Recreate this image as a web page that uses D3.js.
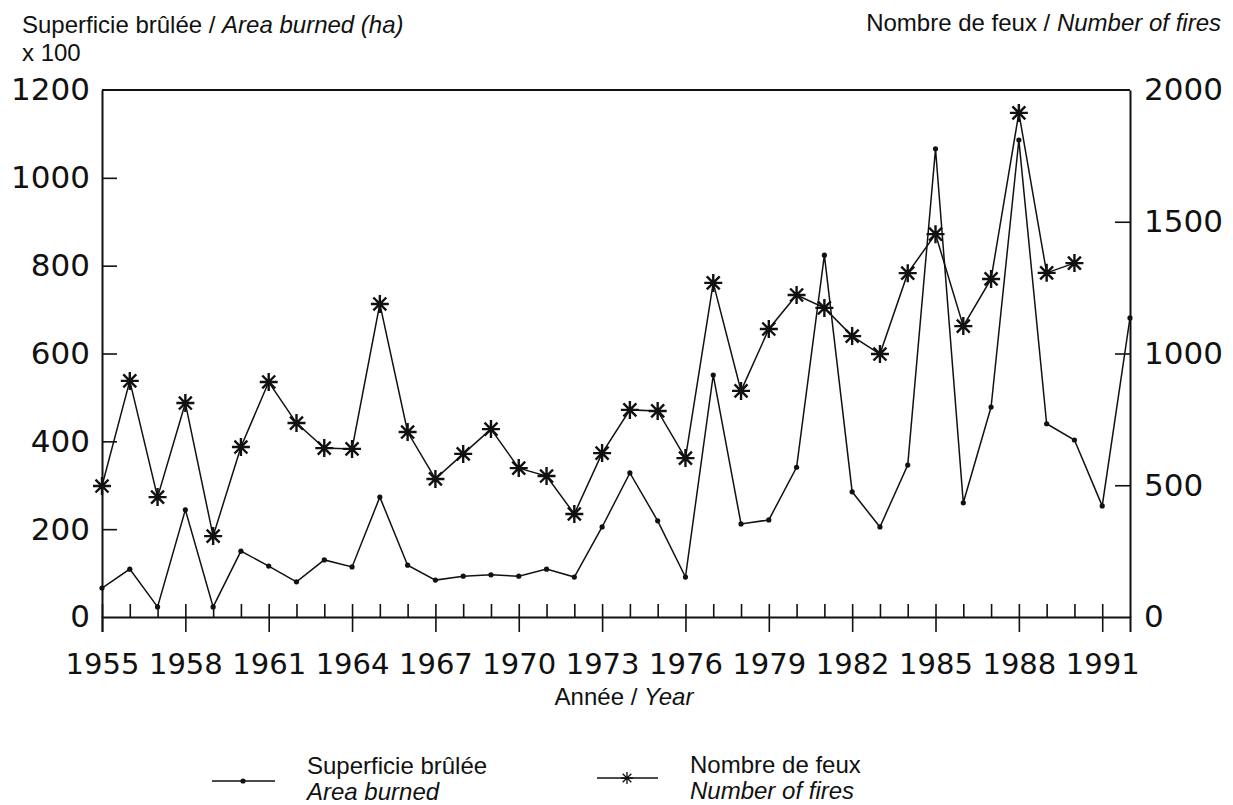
<!DOCTYPE html>
<html><head><meta charset="utf-8">
<script src="https://cdn.jsdelivr.net/npm/d3@7"></script>
<style>body{margin:0;background:#fff}</style>
</head><body><svg id="c" width="1233" height="805"></svg>
<script>
// ---- data ----
const years = d3.range(1955, 1993);
const areaBurned = [66,109,23,244,23,150,116,80,130,114,273,118,84,93,96,93,109,91,205,328,219,91,551,212,221,341,824,285,205,346,1066,260,478,1086,440,403,253,681];
const fireYears = d3.range(1955, 1991);
const numberOfFires = [497,896,455,812,307,645,892,736,641,638,1188,702,524,619,713,565,535,391,622,786,782,603,1268,858,1093,1222,1173,1066,998,1305,1453,1104,1283,1913,1306,1343];
const xMajorTicks = [1955,1958,1961,1964,1967,1970,1973,1976,1979,1982,1985,1988,1991];
const xMinorTicks = d3.range(1956, 1992);
const leftTicks = [0,200,400,600,800,1000,1200];
const rightTicks = [0,500,1000,1500,2000];

const svg = d3.select("#c");
const L = 102, R = 1130, T = 90, B = 617;
const x = d3.scaleLinear().domain([1955, 1992]).range([L, R]);
const yL = d3.scaleLinear().domain([0, 1200]).range([B, T]);
const yR = d3.scaleLinear().domain([0, 2000]).range([B, T]);
const numFont = "'DejaVu Sans', sans-serif";
const txtFont = "'Liberation Sans', Arial, sans-serif";
const fmt = d3.format("d");

// frame top
svg.append("line").attr("x1", L).attr("x2", R).attr("y1", T).attr("y2", T)
  .attr("stroke", "#111").attr("stroke-width", 2);

// bottom axis: major ticks crossing
const gx = svg.append("g").attr("transform", `translate(0,${B})`)
  .call(d3.axisBottom(x).tickValues(xMajorTicks).tickFormat(fmt).tickSizeOuter(0).tickSize(15).tickPadding(21));
gx.select(".domain").attr("stroke", "#111").attr("stroke-width", 2);
gx.selectAll(".tick line").attr("y1", -13).attr("stroke", "#111").attr("stroke-width", 1.6);
gx.selectAll(".tick text").attr("font-family", numFont).attr("font-size", 29).attr("fill", "#111");
// minor ticks
const gxm = svg.append("g").attr("transform", `translate(0,${B})`)
  .call(d3.axisTop(x).tickValues(xMinorTicks.filter(d => !xMajorTicks.includes(d))).tickFormat("").tickSizeOuter(0).tickSize(13));
gxm.select(".domain").remove();
gxm.selectAll(".tick line").attr("stroke", "#111").attr("stroke-width", 1.6);

// left axis
const gl = svg.append("g").attr("transform", `translate(${L},0)`)
  .call(d3.axisLeft(yL).tickValues(leftTicks).tickFormat(fmt).tickSizeOuter(0).tickSize(0).tickPadding(12));
gl.select(".domain").attr("stroke", "#111").attr("stroke-width", 2);
gl.selectAll(".tick text").attr("font-family", numFont).attr("font-size", 31).attr("fill", "#111");
gl.selectAll(".tick").filter(d => d > 0 && d < 1200).append("line")
  .attr("x1", 0).attr("x2", 15).attr("stroke", "#111").attr("stroke-width", 1.6);

// right axis
const gr = svg.append("g").attr("transform", `translate(${R},0)`)
  .call(d3.axisRight(yR).tickValues(rightTicks).tickFormat(fmt).tickSizeOuter(0).tickSize(0).tickPadding(14));
gr.select(".domain").attr("stroke", "#111").attr("stroke-width", 2);
gr.selectAll(".tick text").attr("font-family", numFont).attr("font-size", 31).attr("fill", "#111");
gr.selectAll(".tick").filter(d => d > 0 && d < 2000).append("line")
  .attr("x1", 0).attr("x2", -15).attr("stroke", "#111").attr("stroke-width", 1.6);

// area burned line
const areaData = years.map((y, i) => ({ y, v: areaBurned[i] }));
svg.append("path").datum(areaData)
  .attr("d", d3.line().x(d => x(d.y)).y(d => yL(d.v)))
  .attr("fill", "none").attr("stroke", "#111").attr("stroke-width", 1.5);
svg.append("g").selectAll("circle").data(areaData).join("circle")
  .attr("cx", d => x(d.y)).attr("cy", d => yL(d.v)).attr("r", 2.6).attr("fill", "#111");

// number of fires line
const fireData = fireYears.map((y, i) => ({ y, v: numberOfFires[i] }));
svg.append("path").datum(fireData)
  .attr("d", d3.line().x(d => x(d.y)).y(d => yR(d.v)))
  .attr("fill", "none").attr("stroke", "#111").attr("stroke-width", 1.5);
const star = r => { const q = r * 0.72; return `M${-r},0H${r}M0,${-r}V${r}M${-q},${-q}L${q},${q}M${-q},${q}L${q},${-q}`; };
svg.append("g").selectAll("path").data(fireData).join("path")
  .attr("transform", d => `translate(${x(d.y)},${yR(d.v)})`)
  .attr("d", star(9)).attr("fill", "none").attr("stroke", "#111").attr("stroke-width", 2.4);

// titles
const t1 = svg.append("text").attr("x", 22).attr("y", 33).attr("font-family", txtFont).attr("font-size", 24).attr("fill", "#111");
t1.append("tspan").text("Superficie brûlée / ");
t1.append("tspan").attr("font-style", "italic").text("Area burned (ha)");
svg.append("text").attr("x", 22).attr("y", 61).attr("font-family", txtFont).attr("font-size", 24).attr("fill", "#111").text("x 100");
const t2 = svg.append("text").attr("x", 1221).attr("y", 31).attr("text-anchor", "end").attr("font-family", txtFont).attr("font-size", 24).attr("fill", "#111");
t2.append("tspan").text("Nombre de feux / ");
t2.append("tspan").attr("font-style", "italic").text("Number of fires");
const t3 = svg.append("text").attr("x", 624).attr("y", 705).attr("text-anchor", "middle").attr("font-family", txtFont).attr("font-size", 24).attr("fill", "#111");
t3.append("tspan").text("Année / ");
t3.append("tspan").attr("font-style", "italic").text("Year");

// legend
const lg = svg.append("g").attr("font-family", txtFont).attr("font-size", 24).attr("fill", "#111");
lg.append("line").attr("x1", 212).attr("x2", 275).attr("y1", 781).attr("y2", 781).attr("stroke", "#111").attr("stroke-width", 1.5);
lg.append("circle").attr("cx", 243).attr("cy", 781).attr("r", 2.6).attr("fill", "#111");
lg.append("text").attr("x", 307).attr("y", 774).text("Superficie brûlée");
lg.append("text").attr("x", 307).attr("y", 800).attr("font-style", "italic").text("Area burned");
lg.append("line").attr("x1", 597).attr("x2", 658).attr("y1", 778).attr("y2", 778).attr("stroke", "#111").attr("stroke-width", 1.5);
lg.append("path").attr("transform", "translate(627,778)").attr("d", star(6)).attr("fill", "none").attr("stroke", "#111").attr("stroke-width", 1.3);
lg.append("text").attr("x", 690).attr("y", 773).text("Nombre de feux");
lg.append("text").attr("x", 690).attr("y", 799).attr("font-style", "italic").text("Number of fires");
</script></body></html>
